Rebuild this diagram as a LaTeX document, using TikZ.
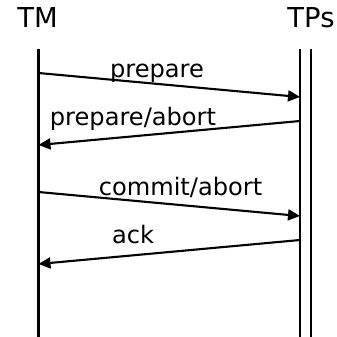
\documentclass[tikz,border=0pt]{standalone}
\usepackage{fontspec}
\setmainfont{DejaVu Sans}
\usetikzlibrary{arrows.meta}
\begin{document}
\begin{tikzpicture}[x=1bp,y=-1bp,
  title/.style={anchor=base,inner sep=0pt,font=\fontsize{27.5}{30}\selectfont},
  lbl/.style={anchor=base,inner sep=0pt,font=\fontsize{24.2}{27}\selectfont},
  life/.style={line width=2.1bp},
  msg/.style={line width=2.1bp,-{Triangle[length=12bp,width=11bp]}}]
\useasboundingbox (0,0) rectangle (337,337);
\node[title] (tm) at (37.5,27) {TM};
\node[title] (tps) at (311,27) {TPs};
\coordinate (tmtop) at (38.5,49);
\coordinate (tmbot) at (38.5,337);
\coordinate (ptop) at (300,49);
\coordinate (pbot) at (300,337);
\coordinate (qtop) at (311,49);
\coordinate (qbot) at (311,337);
\draw[life] (tmtop) -- (tmbot);
\draw[life] (ptop) -- (pbot);
\draw[life] (qtop) -- (qbot);
\coordinate (a1) at (38.5,73); \coordinate (b1) at (300,97);
\coordinate (a2) at (300,121); \coordinate (b2) at (38.5,145);
\coordinate (a3) at (38.5,192); \coordinate (b3) at (300,216);
\coordinate (a4) at (300,240); \coordinate (b4) at (38.5,264);
\draw[msg] (a1) -- (b1);
\draw[msg] (a2) -- (b2);
\draw[msg] (a3) -- (b3);
\draw[msg] (a4) -- (b4);
\node[lbl] (l1) at (157,77) {prepare};
\node[lbl] (l2) at (133,125) {prepare/abort};
\node[lbl] (l3) at (180.5,195) {commit/abort};
\node[lbl] (l4) at (133,243) {ack};
\end{tikzpicture}
\end{document}
